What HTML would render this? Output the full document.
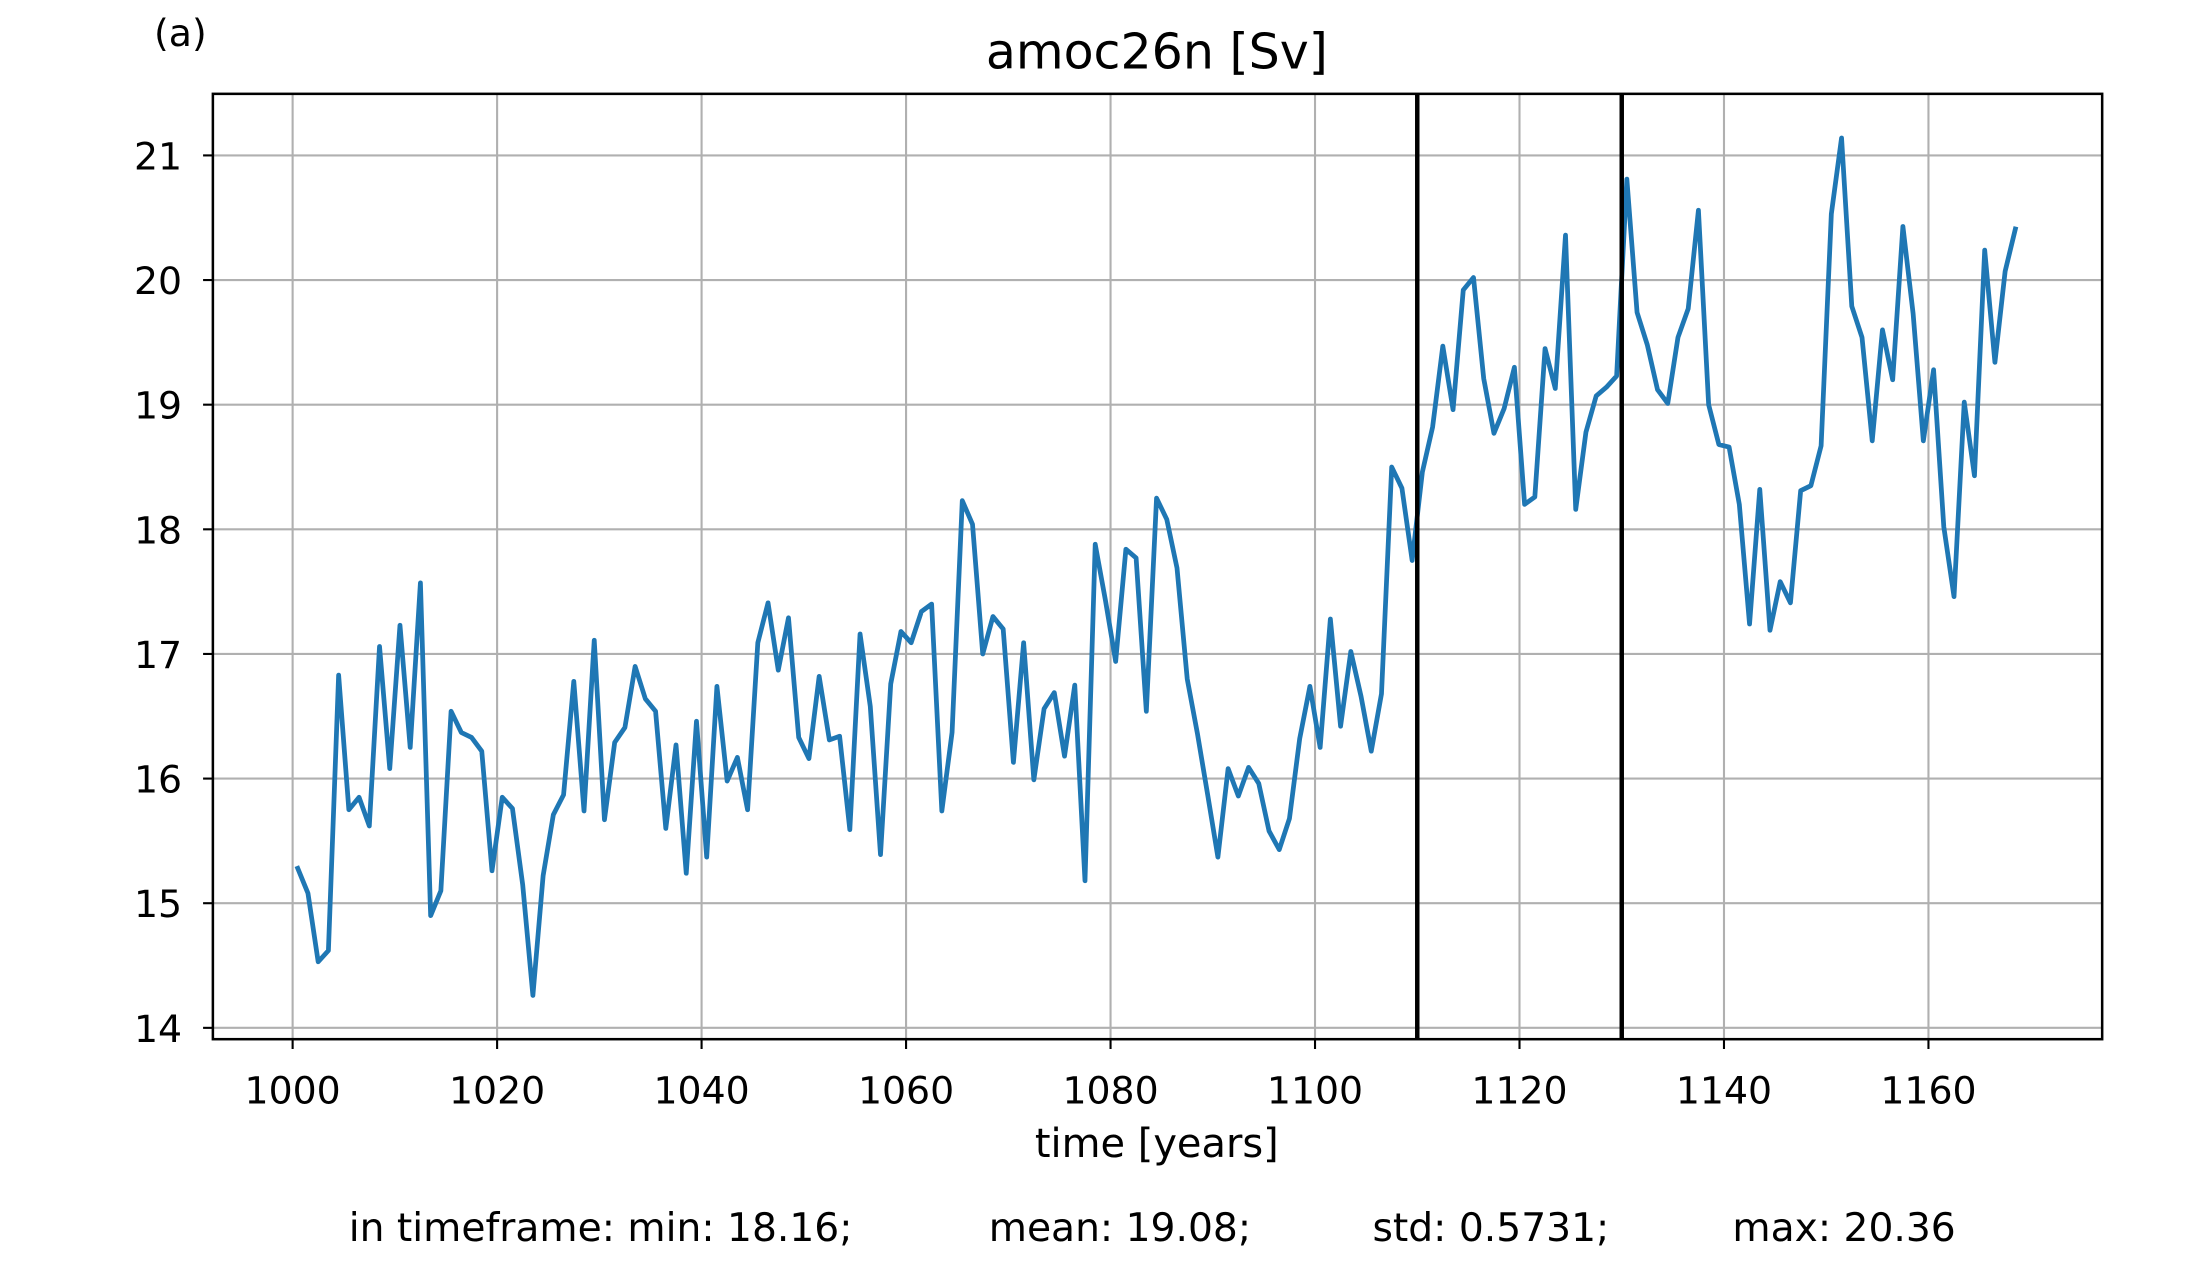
<!DOCTYPE html>
<html><head><meta charset="utf-8"><style>
html,body{margin:0;padding:0;background:#fff;}
svg{display:block;font-family:"DejaVu Sans","Liberation Sans",sans-serif;}
</style></head><body>
<svg id="chart" width="2196" height="1263" viewBox="0 0 1568 901.8" xmlns="http://www.w3.org/2000/svg">
<rect width="1568" height="902" fill="#fff"/>
<text x="110" y="33" font-size="27">(a)</text>
<text x="826" y="49" font-size="35" text-anchor="middle">amoc26n [Sv]</text>
<g id="grid"></g>
<g id="ticks"></g>
<g id="series"></g>
<rect x="152" y="67" width="1349" height="675" fill="none" stroke="#000" stroke-width="1.8"/>
<text x="826" y="826" font-size="28.5" text-anchor="middle">time [years]</text>
<g font-size="28">
<text x="249" y="886">in timeframe: min: 18.16;</text>
<text x="706" y="886">mean: 19.08;</text>
<text x="980" y="886">std: 0.5731;</text>
<text x="1237" y="886">max: 20.36</text>
</g>
</svg>
<script>
const years = [];
for (let i = 0; i < 169; i++) years.push(1000.5 + i);
const values = [15.28,15.08,14.53,14.62,16.83,15.75,15.85,15.62,17.06,16.08,17.23,16.25,17.57,14.9,15.1,16.54,16.37,16.33,16.22,15.26,
15.85,15.76,15.15,14.26,15.22,15.71,15.87,16.78,15.74,17.11,15.67,16.29,16.41,16.9,16.64,16.54,15.6,16.27,15.24,16.46,
15.37,16.74,15.98,16.17,15.75,17.09,17.41,16.87,17.29,16.33,16.16,16.82,16.31,16.34,15.59,17.16,16.58,15.39,16.76,17.18,
17.09,17.34,17.4,15.74,16.37,18.23,18.04,17.0,17.3,17.2,16.13,17.09,15.99,16.56,16.69,16.18,16.75,15.18,17.88,17.43,
16.94,17.84,17.77,16.54,18.25,18.08,17.69,16.8,16.36,15.87,15.37,16.08,15.86,16.09,15.96,15.58,15.43,15.68,16.32,16.74,
16.25,17.28,16.42,17.02,16.66,16.22,16.68,18.5,18.33,17.75,18.46,18.82,19.47,18.96,19.92,20.02,19.21,18.77,18.97,19.3,
18.2,18.26,19.45,19.13,20.36,18.16,18.78,19.07,19.14,19.23,20.81,19.74,19.48,19.12,19.01,19.54,19.77,20.56,19.0,18.68,
18.66,18.2,17.24,18.32,17.19,17.58,17.41,18.31,18.35,18.67,20.53,21.14,19.79,19.54,18.71,19.6,19.2,20.43,19.73,18.71,
19.28,18.02,17.46,19.02,18.43,20.24,19.34,20.07,20.41];
const xTicks = [1000,1020,1040,1060,1080,1100,1120,1140,1160];
const yTicks = [14,15,16,17,18,19,20,21];
const markerYears = [1110,1130];

const L=152,R=1501,T=67,B=742;
const xMin=992.2,xMax=1176.99,yMin=13.909,yMax=21.494;
const sx=v=>L+(v-xMin)/(xMax-xMin)*(R-L);
const sy=v=>B-(v-yMin)/(yMax-yMin)*(B-T);
const NS="http://www.w3.org/2000/svg";
function mk(tag,attrs,parent){const e=document.createElementNS(NS,tag);for(const k in attrs)e.setAttribute(k,attrs[k]);parent.appendChild(e);return e;}
const grid=document.getElementById('grid'),ticks=document.getElementById('ticks'),series=document.getElementById('series');
xTicks.forEach(t=>{
  const x=sx(t);
  const g=mk('line',{x1:x,x2:x,y1:T,y2:B,stroke:'#b0b0b0','stroke-width':1.5},grid);
  
  
  const tk=mk('line',{x1:x,x2:x,y1:B,y2:B+7,stroke:'#000','stroke-width':1.5},ticks);
  
  
  const lb=mk('text',{x:x,y:B+46,'font-size':27,'text-anchor':'middle'},ticks);
  lb.textContent=t;
  
  
});
yTicks.forEach(t=>{
  const y=sy(t);
  const g=mk('line',{x1:L,x2:R,y1:y,y2:y,stroke:'#b0b0b0','stroke-width':1.5},grid);
  
  
  const tk=mk('line',{x1:L-7,x2:L,y1:y,y2:y,stroke:'#000','stroke-width':1.5},ticks);
  
  
  const lb=mk('text',{x:L-22,y:y+10,'font-size':27,'text-anchor':'end'},ticks);
  lb.textContent=t;
  
  
});
const pts=years.map((yr,i)=>sx(yr).toFixed(2)+','+sy(values[i]).toFixed(2)).join(' ');
const line=mk('polyline',{points:pts,fill:'none',stroke:'#1f77b4','stroke-width':3.4,'stroke-linejoin':'round','stroke-linecap':'square'},series);


markerYears.forEach(m=>{
  const v=mk('line',{x1:sx(m),x2:sx(m),y1:T,y2:B,stroke:'#000','stroke-width':3.2},series);
  
  
});
</script>
</body></html>
